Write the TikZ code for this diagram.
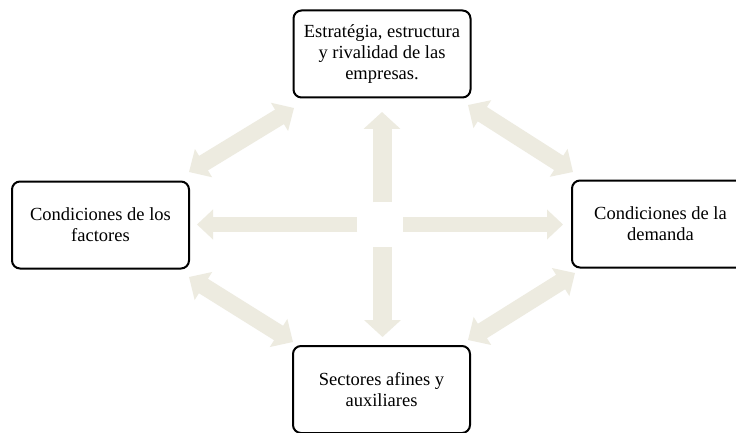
\documentclass[tikz,border=0pt]{standalone}
\usepackage{fontspec}
\setmainfont{Liberation Serif}
\usetikzlibrary{arrows.meta}
\definecolor{arrowfill}{HTML}{EDEBE0}
\tikzset{
  box/.style={draw=black, line width=2pt, rounded corners=8pt, fill=white,
    minimum width=177pt, minimum height=87pt, align=center, inner sep=2pt,
    font=\fontsize{18.5}{21}\selectfont},
  vblock/.style={draw=arrowfill, line width=19pt, -{Triangle[width=36pt,length=17pt]}},
  hblock/.style={draw=arrowfill, line width=15pt, -{Triangle[width=29pt,length=16pt]}},
  dblock/.style={draw=arrowfill, line width=17pt, {Triangle[width=32pt,length=17pt]}-{Triangle[width=32pt,length=17pt]}}
}
\begin{document}
\begin{tikzpicture}[x=1pt,y=-1pt]
\clip (0,0) rectangle (736,433);
\fill[white] (0,0) rectangle (736,433);
% coordinates for arrow ends
\coordinate (upS) at (382,202);
\coordinate (upE) at (382,112);
\coordinate (dnS) at (382.5,247);
\coordinate (dnE) at (382.5,337);
\coordinate (lfS) at (357,224.5);
\coordinate (lfE) at (197,224.5);
\coordinate (rtS) at (403,224.5);
\coordinate (rtE) at (563,224.5);
\coordinate (tlA) at (189,172);
\coordinate (tlB) at (294,108);
\coordinate (trA) at (468,105);
\coordinate (trB) at (573,172);
\coordinate (blA) at (189,277);
\coordinate (blB) at (293,342);
\coordinate (brA) at (468,340);
\coordinate (brB) at (575,273);
% arrows
\draw[vblock] (upS) -- (upE);
\draw[vblock] (dnS) -- (dnE);
\draw[hblock] (lfS) -- (lfE);
\draw[hblock] (rtS) -- (rtE);
\draw[dblock] (tlA) -- (tlB);
\draw[dblock] (trA) -- (trB);
\draw[dblock] (blA) -- (blB);
\draw[dblock] (brA) -- (brB);
% boxes
\node[box] (top) at (382,54) {Estratégia, estructura\\y rivalidad de las\\empresas.};
\node[box] (left) at (100.5,225) {Condiciones de los\\factores};
\node[box] (right) at (660.5,224) {Condiciones de la\\demanda};
\node[box] (bottom) at (381.5,389.5) {Sectores afines y\\auxiliares};
\end{tikzpicture}
\end{document}
